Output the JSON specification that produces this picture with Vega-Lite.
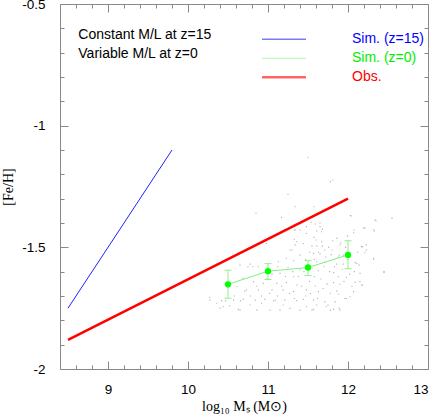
{
  "$schema": "https://vega.github.io/schema/vega-lite/v6.json",
  "width": 368,
  "height": 365,
  "autosize": {"type": "none"},
  "padding": {"left": 60, "top": 4, "right": 8, "bottom": 45},
  "background": "white",
  "config": {
    "view": {"stroke": "#888888", "strokeWidth": 1},
    "axis": {
      "domain": false,
      "grid": false,
      "tickColor": "#888888",
      "tickWidth": 1,
      "labelFont": "Liberation Sans",
      "labelFontSize": 13.5,
      "labelColor": "#000000",
      "titleFont": "Liberation Serif",
      "titleFontSize": 14,
      "titleFontWeight": "normal",
      "titleColor": "#000000"
    },
    "legend": {
      "orient": "none",
      "legendX": 202,
      "legendY": 26,
      "symbolType": "stroke",
      "symbolSize": 5476,
      "labelFont": "Liberation Sans",
      "labelFontSize": 14,
      "labelOffset": 76,
      "clipHeight": 18.5,
      "rowPadding": 0,
      "padding": 0,
      "titleOpacity": 0
    }
  },
  "datasets": {
    "dots": [
      {"logM": 11.55, "feh": -1.495}, {"logM": 11.61, "feh": -1.495}, {"logM": 11.68, "feh": -1.495}, {"logM": 11.81, "feh": -1.473},
      {"logM": 11.91, "feh": -1.481}, {"logM": 11.71, "feh": -1.511}, {"logM": 11.80, "feh": -1.511}, {"logM": 11.57, "feh": -1.525},
      {"logM": 11.65, "feh": -1.527}, {"logM": 11.89, "feh": -1.532}, {"logM": 11.94, "feh": -1.532}, {"logM": 12.18, "feh": -1.497},
      {"logM": 12.23, "feh": -1.49}, {"logM": 12.21, "feh": -1.522}, {"logM": 12.32, "feh": -1.549}, {"logM": 11.61, "feh": -1.559},
      {"logM": 11.71, "feh": -1.562}, {"logM": 11.86, "feh": -1.569}, {"logM": 11.94, "feh": -1.569}, {"logM": 12.09, "feh": -1.563},
      {"logM": 12.14, "feh": -1.573}, {"logM": 12.45, "feh": -1.603}, {"logM": 11.55, "feh": -1.586}, {"logM": 11.63, "feh": -1.596},
      {"logM": 11.82, "feh": -1.604}, {"logM": 11.88, "feh": -1.621}, {"logM": 11.98, "feh": -1.623}, {"logM": 12.15, "feh": -1.607},
      {"logM": 12.09, "feh": -1.644}, {"logM": 12.17, "feh": -1.655}, {"logM": 11.82, "feh": -1.645}, {"logM": 11.90, "feh": -1.652},
      {"logM": 11.59, "feh": -1.659}, {"logM": 11.69, "feh": -1.669}, {"logM": 11.63, "feh": -1.682}, {"logM": 11.78, "feh": -1.689},
      {"logM": 11.88, "feh": -1.693}, {"logM": 12.07, "feh": -1.682}, {"logM": 11.57, "feh": -1.717}, {"logM": 11.71, "feh": -1.724},
      {"logM": 11.84, "feh": -1.724}, {"logM": 11.98, "feh": -1.71}, {"logM": 11.61, "feh": -1.737}, {"logM": 11.75, "feh": -1.737},
      {"logM": 11.90, "feh": -1.758}, {"logM": 11.55, "feh": -1.758}, {"logM": 11.78, "feh": -1.758},
      {"logM": 11.36, "feh": -1.477}, {"logM": 11.44, "feh": -1.484}, {"logM": 11.30, "feh": -1.511}, {"logM": 11.40, "feh": -1.532},
      {"logM": 11.23, "feh": -1.545}, {"logM": 11.32, "feh": -1.555}, {"logM": 11.13, "feh": -1.559}, {"logM": 10.65, "feh": -1.573},
      {"logM": 10.775, "feh": -1.569}, {"logM": 10.88, "feh": -1.58}, {"logM": 11.25, "feh": -1.582}, {"logM": 11.40, "feh": -1.593},
      {"logM": 11.15, "feh": -1.607}, {"logM": 11.32, "feh": -1.621}, {"logM": 10.69, "feh": -1.627}, {"logM": 10.82, "feh": -1.641},
      {"logM": 10.94, "feh": -1.648}, {"logM": 11.11, "feh": -1.648}, {"logM": 11.23, "feh": -1.645}, {"logM": 11.36, "feh": -1.655},
      {"logM": 10.61, "feh": -1.662}, {"logM": 10.73, "feh": -1.675}, {"logM": 10.88, "feh": -1.675}, {"logM": 11.05, "feh": -1.675},
      {"logM": 11.19, "feh": -1.675}, {"logM": 11.32, "feh": -1.682}, {"logM": 11.48, "feh": -1.675}, {"logM": 10.275, "feh": -1.717},
      {"logM": 10.42, "feh": -1.719}, {"logM": 10.57, "feh": -1.717}, {"logM": 10.69, "feh": -1.714}, {"logM": 10.84, "feh": -1.717},
      {"logM": 10.96, "feh": -1.714}, {"logM": 11.09, "feh": -1.717}, {"logM": 11.21, "feh": -1.717}, {"logM": 11.36, "feh": -1.719},
      {"logM": 11.44, "feh": -1.714}, {"logM": 10.44, "feh": -1.744}, {"logM": 10.65, "feh": -1.758}, {"logM": 10.86, "feh": -1.758},
      {"logM": 11.025, "feh": -1.758}, {"logM": 11.15, "feh": -1.758}, {"logM": 11.275, "feh": -1.751}, {"logM": 11.40, "feh": -1.758},
      {"logM": 11.48, "feh": -1.744}, {"logM": 10.775, "feh": -1.737}, {"logM": 10.92, "feh": -1.73}, {"logM": 11.19, "feh": -1.737},
      {"logM": 11.34, "feh": -1.429}, {"logM": 11.40, "feh": -1.429}, {"logM": 11.48, "feh": -1.415}, {"logM": 11.59, "feh": -1.404},
      {"logM": 11.65, "feh": -1.415}, {"logM": 11.67, "feh": -1.436}, {"logM": 12.04, "feh": -1.371}, {"logM": 12.075, "feh": -1.429},
      {"logM": 12.21, "feh": -1.422}, {"logM": 12.32, "feh": -1.429}, {"logM": 12.35, "feh": -1.391}, {"logM": 11.34, "feh": -1.49},
      {"logM": 11.275, "feh": -1.511}, {"logM": 11.60, "feh": -1.47}, {"logM": 11.67, "feh": -1.477}, {"logM": 12.17, "feh": -1.497},
      {"logM": 12.23, "feh": -1.511}, {"logM": 12.32, "feh": -1.545}, {"logM": 11.90, "feh": -1.49}, {"logM": 11.86, "feh": -1.463},
      {"logM": 12.11, "feh": -1.566}, {"logM": 12.15, "feh": -1.641}, {"logM": 12.18, "feh": -1.655}, {"logM": 12.025, "feh": -1.703},
      {"logM": 11.96, "feh": -1.71}, {"logM": 11.89, "feh": -1.751}, {"logM": 10.98, "feh": -1.484}, {"logM": 10.81, "feh": -1.58},
      {"logM": 10.75, "feh": -1.58}, {"logM": 10.27, "feh": -1.705}, {"logM": 10.40, "feh": -1.75}, {"logM": 10.63, "feh": -1.755},
      {"logM": 11.57, "feh": -1.755}, {"logM": 11.73, "feh": -1.744}, {"logM": 11.82, "feh": -1.755},
      {"logM": 11.50, "feh": -1.13}, {"logM": 11.81, "feh": -1.223}, {"logM": 11.78, "feh": -1.23}, {"logM": 11.25, "feh": -1.282},
      {"logM": 10.85, "feh": -1.36}, {"logM": 12.55, "feh": -1.38}, {"logM": 12.45, "feh": -1.60}, {"logM": 11.575, "feh": -1.333},
      {"logM": 12.03, "feh": -1.369}, {"logM": 12.34, "feh": -1.388}, {"logM": 11.65, "feh": -1.40}, {"logM": 11.54, "feh": -1.397},
      {"logM": 11.68, "feh": -1.425}, {"logM": 12.07, "feh": -1.44}, {"logM": 12.20, "feh": -1.42}, {"logM": 12.33, "feh": -1.433},
      {"logM": 11.61, "feh": -1.433}, {"logM": 11.995, "feh": -1.454}, {"logM": 11.575, "feh": -1.459}, {"logM": 11.34, "feh": -1.333},
      {"logM": 11.17, "feh": -1.377}, {"logM": 11.33, "feh": -1.429}, {"logM": 11.48, "feh": -1.443}, {"logM": 11.33, "feh": -1.467},
      {"logM": 11.02, "feh": -1.69}, {"logM": 11.07, "feh": -1.72}, {"logM": 11.12, "feh": -1.70}, {"logM": 11.17, "feh": -1.66},
      {"logM": 11.27, "feh": -1.69}, {"logM": 11.33, "feh": -1.71}, {"logM": 11.42, "feh": -1.66}, {"logM": 11.47, "feh": -1.70},
      {"logM": 11.52, "feh": -1.64}, {"logM": 11.53, "feh": -1.69}, {"logM": 11.58, "feh": -1.62}, {"logM": 11.62, "feh": -1.71},
      {"logM": 11.66, "feh": -1.63}, {"logM": 11.70, "feh": -1.58}, {"logM": 11.74, "feh": -1.65}, {"logM": 11.77, "feh": -1.60},
      {"logM": 11.79, "feh": -1.53}, {"logM": 11.83, "feh": -1.58}, {"logM": 11.86, "feh": -1.68}, {"logM": 11.93, "feh": -1.59},
      {"logM": 11.95, "feh": -1.64}, {"logM": 12.00, "feh": -1.55}, {"logM": 12.02, "feh": -1.61}, {"logM": 12.05, "feh": -1.66},
      {"logM": 10.98, "feh": -1.63}, {"logM": 10.92, "feh": -1.70}, {"logM": 10.86, "feh": -1.66}, {"logM": 10.78, "feh": -1.70},
      {"logM": 10.71, "feh": -1.68}, {"logM": 10.66, "feh": -1.72}, {"logM": 10.58, "feh": -1.70}, {"logM": 10.52, "feh": -1.74},
      {"logM": 10.47, "feh": -1.72}, {"logM": 10.36, "feh": -1.73}, {"logM": 11.47, "feh": -1.55}, {"logM": 11.52, "feh": -1.52},
      {"logM": 11.58, "feh": -1.55}, {"logM": 11.63, "feh": -1.52}, {"logM": 11.72, "feh": -1.54}, {"logM": 11.76, "feh": -1.50},
      {"logM": 11.88, "feh": -1.54}, {"logM": 11.97, "feh": -1.50}, {"logM": 12.12, "feh": -1.52}, {"logM": 12.08, "feh": -1.60},
      {"logM": 11.38, "feh": -1.62}, {"logM": 11.31, "feh": -1.60}, {"logM": 11.22, "feh": -1.62}, {"logM": 11.12, "feh": -1.58},
      {"logM": 11.05, "feh": -1.61}, {"logM": 11.45, "feh": -1.60}
    ],
    "lines": [
      {"series": "Sim. (z=15)", "logM": 8.5, "feh": -1.75},
      {"series": "Sim. (z=15)", "logM": 9.8, "feh": -1.1},
      {"series": "Obs.", "logM": 8.5, "feh": -1.88},
      {"series": "Obs.", "logM": 12.0, "feh": -1.3}
    ],
    "sim0": [
      {"series": "Sim. (z=0)", "logM": 10.5, "feh": -1.652, "lo": -1.709, "hi": -1.594},
      {"series": "Sim. (z=0)", "logM": 11.0, "feh": -1.598, "lo": -1.632, "hi": -1.567},
      {"series": "Sim. (z=0)", "logM": 11.5, "feh": -1.583, "lo": -1.616, "hi": -1.555},
      {"series": "Sim. (z=0)", "logM": 12.0, "feh": -1.531, "lo": -1.588, "hi": -1.473}
    ],
    "notes": [
      {"note": "Constant M/L at z=15|Variable M/L at z=0"}
    ]
  },
  "layer": [
    {
      "data": {"name": "dots"},
      "mark": {"type": "square", "size": 1.2, "color": "#b0b0b0", "opacity": 1},
      "encoding": {
        "x": {"field": "logM", "type": "quantitative",
              "scale": {"domain": [8.4, 13], "nice": false, "zero": false},
              "axis": {"orient": "bottom", "values": [9, 10, 11, 12, 13], "ticks": false, "labelPadding": 13,
                       "labelExpr": "'' + datum.value", "title": "log₁₀ Mₛ (M⊙)", "titleY": 41, "titleBaseline": "alphabetic"}},
        "y": {"field": "feh", "type": "quantitative",
              "scale": {"domain": [-2, -0.5], "nice": false, "zero": false},
              "axis": {"orient": "left", "values": [-2, -1.5, -1, -0.5], "ticks": false, "labelPadding": 15,
                       "labelExpr": "'' + datum.value", "title": "[Fe/H]", "titleX": -52, "titleBaseline": "middle"}}
      }
    },
    {
      "data": {"name": "lines"},
      "transform": [{"filter": "datum.series === 'Sim. (z=15)'"}],
      "mark": {"type": "line", "strokeWidth": 1},
      "encoding": {
        "x": {"field": "logM", "type": "quantitative",
              "axis": {"orient": "bottom", "values": [9, 10, 11, 12, 13], "labels": false, "tickSize": -8, "title": null}},
        "y": {"field": "feh", "type": "quantitative",
              "axis": {"orient": "left", "values": [-2, -1.5, -1, -0.5], "labels": false, "tickSize": -8, "title": null}},
        "color": {"field": "series", "type": "nominal",
                  "scale": {"domain": ["Sim. (z=15)", "Sim. (z=0)", "Obs."], "range": ["#2222ff", "#80f080", "#ff0000"]},
                  "legend": {"title": null,
                             "encode": {
                               "symbols": {"update": {"strokeWidth": {"signal": "datum.value === 'Obs.' ? 2.5 : (datum.value === 'Sim. (z=0)' ? 1 : 1.5)"}, "opacity": {"value": 0.6}}},
                               "labels": {"update": {"fill": {"signal": "datum.value === 'Obs.' ? '#ff0000' : (datum.value === 'Sim. (z=0)' ? '#00ee00' : '#0000ff')"}}}
                             }}}
      }
    },
    {
      "data": {"name": "lines"},
      "transform": [{"filter": "datum.series === 'Obs.'"}],
      "mark": {"type": "line", "strokeWidth": 2.5},
      "encoding": {
        "x": {"field": "logM", "type": "quantitative",
              "axis": {"orient": "bottom", "values": [8.6, 8.8, 9.2, 9.4, 9.6, 9.8, 10.2, 10.4, 10.6, 10.8, 11.2, 11.4, 11.6, 11.8, 12.2, 12.4, 12.6, 12.8],
                       "labels": false, "tickSize": -4, "title": null}},
        "y": {"field": "feh", "type": "quantitative",
              "axis": {"orient": "left", "values": [-1.9, -1.8, -1.7, -1.6, -1.4, -1.3, -1.2, -1.1, -0.9, -0.8, -0.7, -0.6],
                       "labels": false, "tickSize": -4, "title": null}},
        "color": {"field": "series", "type": "nominal"}
      }
    },
    {
      "data": {"name": "sim0"},
      "mark": {"type": "line", "strokeWidth": 1},
      "encoding": {
        "x": {"field": "logM", "type": "quantitative",
              "axis": {"orient": "top", "values": [9, 10, 11, 12, 13], "labels": false, "tickSize": -8, "title": null}},
        "y": {"field": "feh", "type": "quantitative",
              "axis": {"orient": "right", "values": [-2, -1.5, -1, -0.5], "labels": false, "tickSize": -8, "title": null}},
        "color": {"field": "series", "type": "nominal"}
      }
    },
    {
      "data": {"name": "sim0"},
      "mark": {"type": "rule", "color": "#90ee90", "strokeWidth": 1},
      "encoding": {
        "x": {"field": "logM", "type": "quantitative",
              "axis": {"orient": "top", "values": [8.6, 8.8, 9.2, 9.4, 9.6, 9.8, 10.2, 10.4, 10.6, 10.8, 11.2, 11.4, 11.6, 11.8, 12.2, 12.4, 12.6, 12.8],
                       "labels": false, "tickSize": -4, "title": null}},
        "y": {"field": "lo", "type": "quantitative",
              "axis": {"orient": "right", "values": [-1.9, -1.8, -1.7, -1.6, -1.4, -1.3, -1.2, -1.1, -0.9, -0.8, -0.7, -0.6],
                       "labels": false, "tickSize": -4, "title": null}},
        "y2": {"field": "hi"}
      }
    },
    {
      "data": {"name": "sim0"},
      "mark": {"type": "tick", "orient": "horizontal", "color": "#90ee90", "size": 7, "thickness": 1, "opacity": 1},
      "encoding": {
        "x": {"field": "logM", "type": "quantitative", "axis": null},
        "y": {"field": "lo", "type": "quantitative", "axis": null}
      }
    },
    {
      "data": {"name": "sim0"},
      "mark": {"type": "tick", "orient": "horizontal", "color": "#90ee90", "size": 7, "thickness": 1, "opacity": 1},
      "encoding": {
        "x": {"field": "logM", "type": "quantitative", "axis": null},
        "y": {"field": "hi", "type": "quantitative", "axis": null}
      }
    },
    {
      "data": {"name": "sim0"},
      "mark": {"type": "circle", "size": 40, "color": "#00ff00", "opacity": 1},
      "encoding": {
        "x": {"field": "logM", "type": "quantitative", "axis": null},
        "y": {"field": "feh", "type": "quantitative", "axis": null}
      }
    },
    {
      "data": {"name": "notes"},
      "mark": {"type": "text", "align": "left", "baseline": "top", "lineBreak": "|", "lineHeight": 19,
               "font": "Liberation Sans", "fontSize": 14, "color": "#000000"},
      "encoding": {
        "x": {"datum": 8.629, "type": "quantitative", "axis": null},
        "y": {"datum": -0.5986, "type": "quantitative", "axis": null},
        "text": {"field": "note"}
      }
    }
  ],
  "resolve": {"axis": {"x": "independent", "y": "independent"}}
}
